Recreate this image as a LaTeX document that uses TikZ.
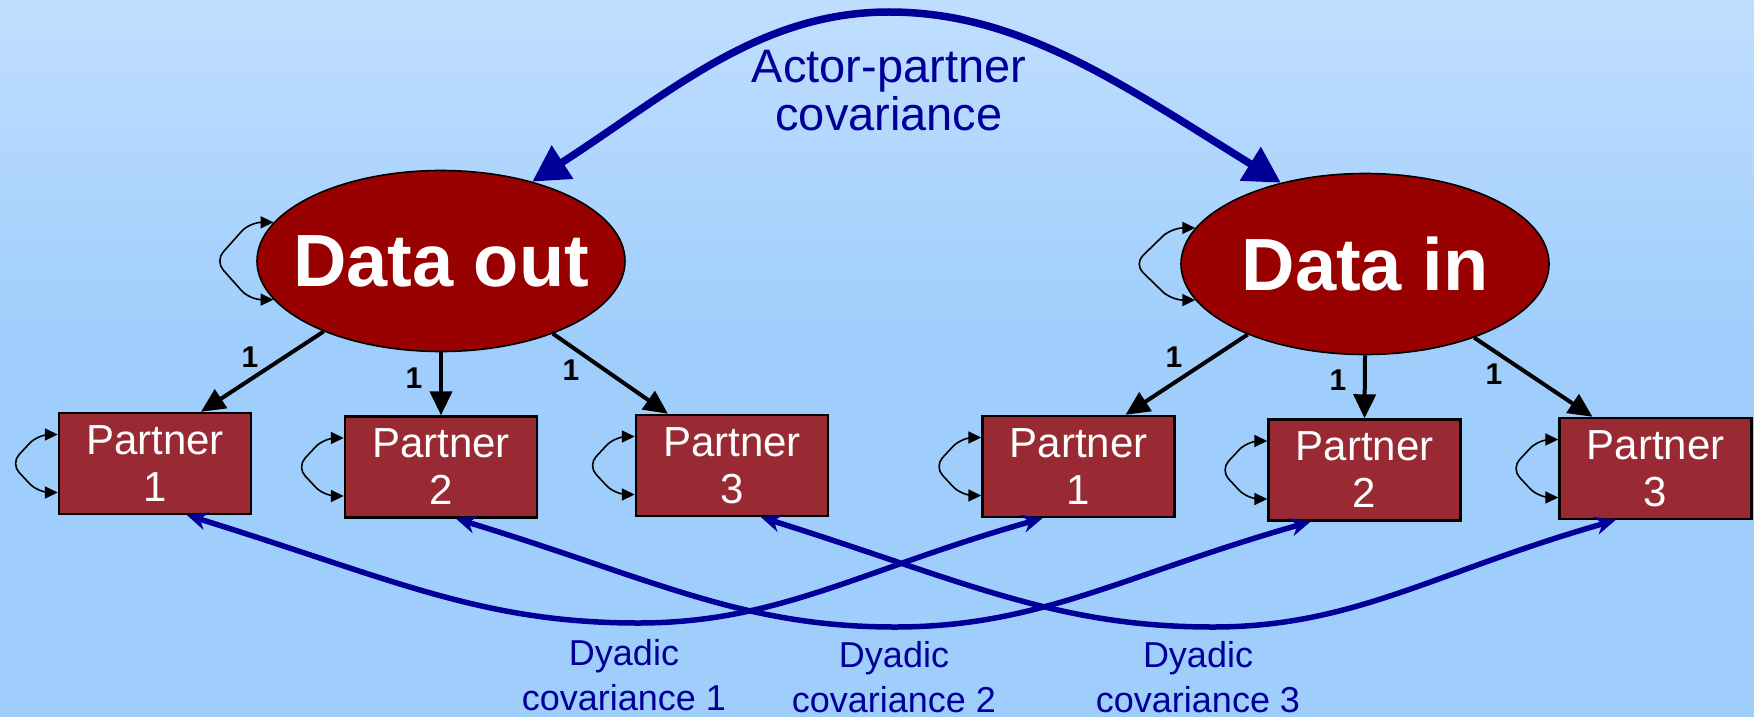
\documentclass[tikz,border=0pt]{standalone}
\usepackage{fontspec}
\setmainfont{Liberation Sans}
\usetikzlibrary{arrows.meta,shapes.geometric,calc}
\definecolor{bgtop}{RGB}{192,222,255}
\definecolor{bgbot}{RGB}{160,206,252}
\definecolor{dblue}{RGB}{0,0,153}
\definecolor{ellred}{RGB}{153,0,0}
\definecolor{boxred}{RGB}{153,41,51}
\begin{document}
\begin{tikzpicture}[x=0.5pt,y=-0.5pt,
  latent/.style={ellipse, draw=black, line width=0.8pt, fill=ellred, minimum width=184pt, minimum height=90.5pt, inner sep=0pt},
  latlabel/.style={text=white, font=\bfseries\fontsize{37}{40}\selectfont},
  partner/.style={rectangle, draw=black, line width=1.2pt, fill=boxred, minimum width=96pt, minimum height=50.5pt, inner sep=0pt, text=white, align=center, font=\fontsize{21}{23.5}\selectfont},
  loading/.style={draw=black, line width=2pt, -{Triangle[length=12pt,width=11pt]}},
  loadlabel/.style={font=\bfseries\fontsize{15}{17}\selectfont},
  selfloop/.style={draw=black, line width=0.8pt, rounded corners=6pt, {Triangle[length=6.5pt,width=6pt]}-{Triangle[length=6.5pt,width=6pt]}},
  cov/.style={draw=dblue, line width=3.75pt, {Triangle[length=18pt,width=19pt]}-{Triangle[length=18pt,width=19pt]}},
  dyad/.style={draw=dblue, line width=2.75pt, {Stealth[length=10pt,width=9pt]}-{Stealth[length=10pt,width=9pt]}},
  covlabel/.style={text=dblue, align=center}
]
\useasboundingbox (0,0) rectangle (1754,717);
\shade[top color=bgtop, bottom color=bgbot] (0,0) rectangle (1754,330);
\fill[bgbot] (0,329) rectangle (1754,717);

% latent variables
\node[latent] (dout) at (441,261) {};
\node[latlabel] (doutt) at (dout.center) {Data out};
\node[latent] (din) at (1365,264) {};
\node[latlabel] (dint) at (din.center) {Data in};

% partners
\node[partner] (pl1) at (155,463.5) {Partner\\1};
\node[partner] (pl2) at (441,467) {Partner\\2};
\node[partner] (pl3) at (732,465.5) {Partner\\3};
\node[partner] (pr1) at (1078.5,466.5) {Partner\\1};
\node[partner] (pr2) at (1364.5,470) {Partner\\2};
\node[partner] (pr3) at (1655.5,468.5) {Partner\\3};

% self loops (variances)
\draw[selfloop] (dout.167) -- ++(-24,0) -- ($(dout.west)+(-41,0)$) -- ($(dout.193)+(-24,0)$) -- (dout.193);
\draw[selfloop] (din.168) -- ++(-24,0) -- ($(din.west)+(-46,0)$) -- ($(din.192)+(-24,0)$) -- (din.192);
\foreach \n in {pl1,pl2,pl3,pr1,pr2,pr3}{
  \draw[selfloop] ([yshift=14.5pt]\n.west) -- ++(-20,0) -- ($(\n.west)+(-47,0)$) -- ($(\n.west)+(-20,29)$) -- ([yshift=-14.5pt]\n.west);
}

% loadings
\draw[loading] (dout.211) -- ([xshift=23pt]pl1.north);
\draw[loading] (dout.south) -- (pl2.north);
\draw[loading] (dout.327) -- ([xshift=-32pt]pl3.north);
\draw[loading] (din.211) -- ([xshift=23.5pt]pr1.north);
\draw[loading] (din.south) -- (pr2.north);
\draw[loading] (din.326) -- ([xshift=-31.5pt]pr3.north);
\node[loadlabel] (la1) at (250,357) {1};
\node[loadlabel] (la2) at (414,378) {1};
\node[loadlabel] (la3) at (571,370) {1};
\node[loadlabel] (lb1) at (1174,357) {1};
\node[loadlabel] (lb2) at (1338,380) {1};
\node[loadlabel] (lb3) at (1494,374) {1};

% actor-partner covariance
\coordinate (apex) at (889,12);
\draw[cov] (dout.41) .. controls (671,92) and (759,12) .. (apex) .. controls (1019,12) and (1120,83) .. (din.136);
\node[covlabel, font=\fontsize{23.5}{24}\selectfont] (apl) at (889,91) {Actor-partner\\covariance};

% dyadic covariances
\coordinate (b1) at (638,623);
\coordinate (b2) at (895,627);
\coordinate (b3) at (1213,627);
\draw[dyad] ([xshift=16pt]pl1.south) .. controls (390,578) and (480,623) .. (b1) .. controls (779,623) and (860,570) .. ([xshift=-18pt]pr1.south);
\draw[dyad] ([xshift=7.5pt]pl2.south) .. controls (654,579) and (741,627) .. (b2) .. controls (1040,627) and (1123,575) .. ([xshift=-27pt]pr2.south);
\draw[dyad] ([xshift=14.5pt]pl3.south) .. controls (964,581) and (1055,627) .. (b3) .. controls (1354,627) and (1434,572) .. ([xshift=-20pt]pr3.south);
\node[covlabel, font=\fontsize{18}{22.5}\selectfont] (dc1) at (624,675) {Dyadic\\covariance 1};
\node[covlabel, font=\fontsize{18}{22.5}\selectfont] (dc2) at (894,677) {Dyadic\\covariance 2};
\node[covlabel, font=\fontsize{18}{22.5}\selectfont] (dc3) at (1198,677) {Dyadic\\covariance 3};
\end{tikzpicture}
\end{document}
